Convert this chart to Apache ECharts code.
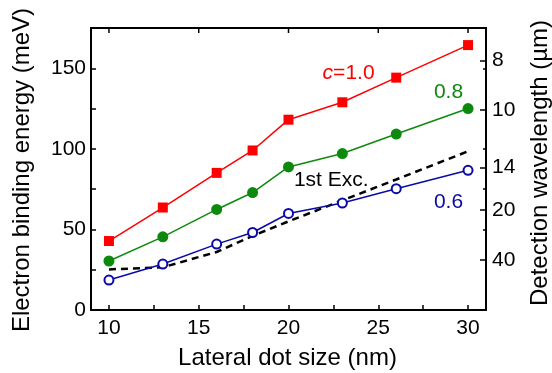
<!DOCTYPE html>
<html>
<head>
<meta charset="utf-8">
<script src="https://cdn.jsdelivr.net/npm/echarts@6/dist/echarts.min.js"></script>
<style>
html,body{margin:0;padding:0;background:#fff;}
#c{width:552px;height:373px;}
</style>
</head>
<body>
<div id="c"></div>
<script>
// ---- data ----
var dotSize = [10, 13, 16, 18, 20, 23, 26, 30];
var energyC10 = [42.8, 63.6, 85.1, 99, 118.1, 128.9, 144.2, 164.4];
var energyC08 = [30.4, 45.4, 62.4, 72.9, 88.8, 97.1, 109.2, 125];
var energyC06 = [18.6, 28.5, 40.9, 48.1, 59.9, 66.4, 75.3, 86.7];
var energyExc = [25.2, 26.5, 36, 46, 55, 68, 81, 98.5];
var xTickLabels = [10, 15, 20, 25, 30];
var xMinorTicks = [10, 12.5, 15, 17.5, 20, 22.5, 25, 27.5, 30];
var wavelengthTicks = [8, 10, 14, 20, 40];      // µm
var hcConst = 1239.84;                          // meV·µm
var seriesLabels = ['c=1.0', '0.8', '1st Exc.', '0.6'];

var FONT = '"Liberation Sans", Arial, Helvetica, sans-serif';
function pairs(y) { return dotSize.map(function (x, i) { return [x, y[i]]; }); }
var wlEnergies = wavelengthTicks.map(function (w) { return hcConst / w; });

var chart = echarts.init(document.getElementById('c'), null, {renderer: 'canvas'});
function axisLine() { return {show: true, onZero: false, lineStyle: {color: '#000', width: 2}}; }
var option = {
  animation: false,
  backgroundColor: '#fff',
  grid: {left: 91, right: 66, top: 28, bottom: 63, containLabel: false,
    show: true, borderColor: '#000', borderWidth: 2, backgroundColor: 'transparent'},
  xAxis: [{
    type: 'value', position: 'bottom', min: 9, max: 31,
    axisLine: axisLine(),
    axisTick: {show: true, inside: true, length: 5, customValues: xMinorTicks, lineStyle: {color: '#000', width: 1.5}},
    axisLabel: {show: true, customValues: xTickLabels, color: '#000', fontSize: 21, fontFamily: FONT, margin: 8},
    splitLine: {show: false}
  }],
  yAxis: [{
    type: 'value', position: 'left', min: 0, max: 175, interval: 25,
    axisLine: axisLine(),
    axisTick: {show: true, inside: true, length: 5, lineStyle: {color: '#000', width: 1.5}},
    axisLabel: {color: '#000', fontSize: 21, fontFamily: FONT, margin: 5,
      formatter: function (v) { return (v % 50 === 0 && v < 175) ? String(v) : ''; }},
    splitLine: {show: false}
  }, {
    type: 'value', position: 'right', min: 0, max: 175,
    axisLine: axisLine(),
    axisTick: {show: true, inside: true, length: 6, customValues: wlEnergies, lineStyle: {color: '#000', width: 1.5}},
    axisLabel: {show: true, customValues: wlEnergies, color: '#000', fontSize: 21, fontFamily: FONT, margin: 6,
      formatter: function (v) { return String(Math.round(hcConst / v)); }},
    splitLine: {show: false}
  }, {
    type: 'value', position: 'right', min: 0, max: 175,
    axisLine: {show: false, onZero: false},
    axisTick: {show: true, inside: true, length: 3, customValues: [50, 75, 100, 150], lineStyle: {color: '#000', width: 1.5}},
    axisLabel: {show: false},
    splitLine: {show: false}
  }],
  series: [{
    name: '1st Exc.', type: 'line', data: pairs(energyExc), symbol: 'none',
    lineStyle: {color: '#000', width: 2.5, type: [7, 5]}, z: 1
  }, {
    name: 'c=1.0', type: 'line', data: pairs(energyC10), symbol: 'rect', symbolSize: 10,
    itemStyle: {color: '#ff0000'}, lineStyle: {color: '#ff0000', width: 1.5}, z: 3
  }, {
    name: '0.8', type: 'line', data: pairs(energyC08), symbol: 'circle', symbolSize: 11,
    itemStyle: {color: '#0d8a0d'}, lineStyle: {color: '#0d8a0d', width: 1.5}, z: 3
  }, {
    name: '0.6', type: 'line', data: pairs(energyC06), symbol: 'circle', symbolSize: 9,
    itemStyle: {color: '#fff', borderColor: '#0a0aa8', borderWidth: 2}, lineStyle: {color: '#0a0aa8', width: 1.5}, z: 3
  }]
};
chart.setOption(option);

function px(pt) { return chart.convertToPixel({xAxisIndex: 0, yAxisIndex: 0}, pt); }
var graphics = [];
// top frame line and ticks on their own layer, positioned through the axis scales
var tl = px([9, 175]), tr = px([31, 175]);
graphics.push({type: 'polyline', zlevel: 2, z: 100,
  shape: {points: [[tl[0] - 1, tl[1]], [tr[0] + 1, tr[1]]]},
  style: {stroke: '#000', lineWidth: 2, fill: null}});
xTickLabels.forEach(function (v) {
  var p = px([v, 175]);
  graphics.push({type: 'polyline', zlevel: 2, z: 100, shape: {points: [[p[0], p[1]], [p[0], p[1] + 5]]},
    style: {stroke: '#000', lineWidth: 1.5, fill: null}});
});

// annotation texts placed in data coordinates
var annot = [
  {t: '{i|c}=1.0', at: [21.9, 146.8], color: '#ff0000'},
  {t: seriesLabels[1], at: [28.1, 135.3], color: '#0d8a0d'},
  {t: seriesLabels[2], at: [20.3, 80.8], color: '#000'},
  {t: seriesLabels[3], at: [28.1, 67.1], color: '#0a0aa8'}
];
annot.forEach(function (a) {
  var p = px(a.at);
  graphics.push({type: 'text', x: p[0], y: p[1], z: 10,
    style: {text: a.t, fill: a.color, font: '21px ' + FONT, textAlign: 'left', textVerticalAlign: 'middle',
      rich: {i: {fontStyle: 'italic', fontSize: 21, fontFamily: FONT, fill: a.color}}}});
});
graphics.push({type: 'text', x: 287.5, y: 358, style: {text: 'Lateral dot size (nm)', fill: '#000', font: '24px ' + FONT, textAlign: 'center', textVerticalAlign: 'middle'}});
graphics.push({type: 'text', x: 22, y: 170, rotation: Math.PI / 2, style: {text: 'Electron binding energy (meV)', fill: '#000', font: '24px ' + FONT, textAlign: 'center', textVerticalAlign: 'middle'}});
graphics.push({type: 'text', x: 540, y: 163, rotation: Math.PI / 2, style: {text: 'Detection wavelength (\u00b5m)', fill: '#000', font: '24px ' + FONT, textAlign: 'center', textVerticalAlign: 'middle'}});
chart.setOption({graphic: graphics});
</script>
</body>
</html>
